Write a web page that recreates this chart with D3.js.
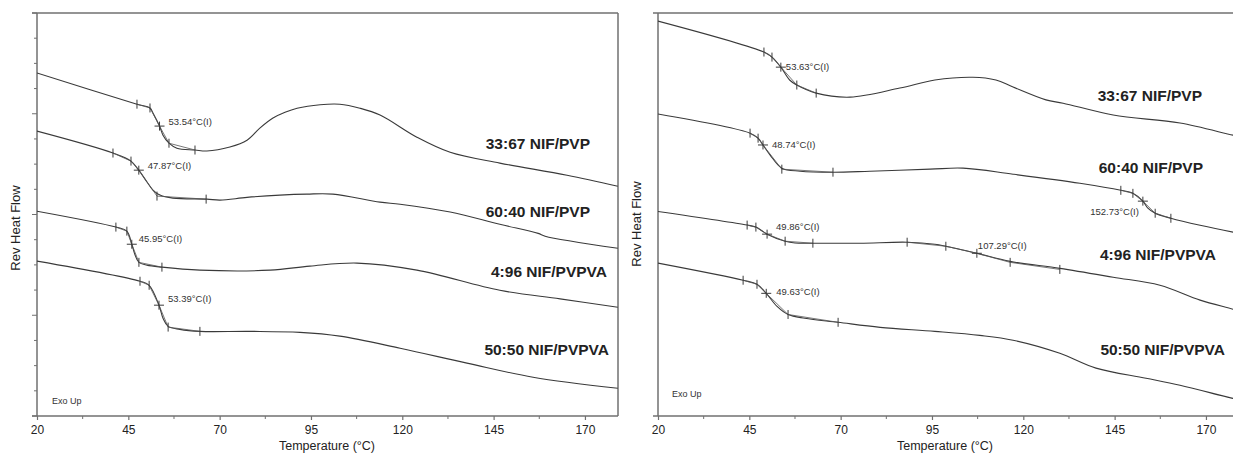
<!DOCTYPE html>
<html>
<head>
<meta charset="utf-8">
<script src="https://cdn.jsdelivr.net/npm/d3@7"></script>
<style>
  body { margin: 0; background: #fff; }
  svg { display: block; }
  text { font-family: "Liberation Sans", Arial, sans-serif; }
</style>
</head>
<body>
<svg id="chart" width="1233" height="454"></svg>
<script>
// ---- axis ticks ----
const xMajorTicks = [20, 45, 70, 95, 120, 145, 170];
const xMinorTicks = [32.5, 57.5, 82.5, 107.5, 132.5, 157.5];
const yTicks = d3.range(0, 17);          // arbitrary heat-flow units
const yMajorTicks = [0, 4, 8, 12, 16];

const seriesNames = ["33:67 NIF/PVP", "60:40 NIF/PVP", "4:96 NIF/PVPVA", "50:50 NIF/PVPVA"];

// ---- reversing heat flow traces, [temperature °C, heat flow] ----
// left panel
const leftPvp3367 = [[20,13.62],[47.37,12.38],[50.93,12.23],[51.75,12.03],[53.54,11.51],[54.49,11.15],[56.13,10.83],[58.3,10.63],[63.25,10.56],[66.5,10.52],[72.8,10.68],[77.5,10.95],[81.0,11.43],[84.6,11.83],[87.9,12.06],[91.2,12.22],[97.5,12.36],[102.9,12.38],[108.4,12.22],[113.9,11.95],[124.0,11.07],[133.1,10.47],[146.7,10.04],[165.1,9.56],[179.0,9.12]];
const leftPvp6040 = [[20,11.31],[40.8,10.44],[45.73,10.12],[47.87,9.76],[50.1,9.29],[51.75,8.97],[53.67,8.77],[57.2,8.65],[66.5,8.61],[70.1,8.57],[77.5,8.68],[86.5,8.77],[93.9,8.81],[101.0,8.81],[113.9,8.49],[119.4,8.41],[133.1,8.10],[146.7,7.61],[157.2,7.25],[159.1,7.14],[179.0,6.66]];
const leftPvpva496 = [[20,8.13],[41.6,7.50],[44.6,7.34],[45.95,6.82],[46.8,6.41],[47.9,6.10],[50.1,5.99],[54.2,5.91],[64.6,5.79],[83.8,5.79],[94.7,5.95],[107.6,6.07],[124.0,5.79],[146.7,4.99],[163.2,4.65],[179.0,4.32]];
const leftPvpva5050 = [[20,6.15],[48.2,5.35],[50.7,5.19],[53.39,4.40],[54.5,3.88],[55.9,3.56],[59.1,3.44],[64.6,3.36],[78.3,3.36],[92.0,3.32],[102.9,3.17],[119.4,2.69],[137.7,2.10],[155.8,1.54],[179.0,1.10]];

// right panel
const rightPvp3367 = [[20,15.68],[49.0,14.45],[51.2,14.25],[53.63,13.85],[56.1,13.33],[58.0,13.14],[63.3,12.82],[72.6,12.66],[86.2,13.02],[95.8,13.34],[106.2,13.45],[112.5,13.34],[117.2,13.06],[126.2,12.55],[130.9,12.42],[144.6,11.95],[162.9,11.63],[177.4,11.15],[179.3,11.10]];
const rightPvp6040 = [[20,11.99],[45.2,11.23],[47.4,11.03],[48.74,10.76],[50.7,10.36],[53.9,9.84],[58.9,9.72],[67.9,9.68],[78.0,9.72],[94.5,9.80],[103.5,9.84],[117.2,9.60],[135.5,9.24],[146.7,8.96],[150.0,8.84],[152.73,8.53],[154.1,8.25],[156.1,8.05],[160.4,7.85],[168.4,7.57],[177.4,7.30],[179.3,7.25]];
const rightPvpva496 = [[20,8.12],[44.4,7.58],[46.8,7.50],[49.86,7.22],[54.8,6.94],[57.5,6.87],[62.4,6.86],[75.3,6.86],[88.2,6.90],[95.8,6.82],[98.8,6.74],[107.29,6.46],[116.4,6.14],[130.0,5.86],[144.6,5.51],[157.4,5.19],[168.4,4.60],[177.4,4.24],[179.3,4.15]];
const rightPvpva5050 = [[20,6.07],[43.3,5.39],[47.1,5.23],[49.63,4.87],[52.6,4.35],[55.6,4.03],[60.2,3.88],[69.3,3.72],[80.8,3.52],[95.8,3.36],[108.1,3.20],[117.2,3.01],[130.0,2.49],[139.9,1.90],[153.6,1.50],[162.9,1.22],[177.4,0.70],[179.3,0.65]];

// ---- glass transition analyses: onset/end tangent points and inflection Tg ----
const leftTransitions = [
  { series: 0, tg: [53.54, 11.51], pts: [[47.37,12.38],[50.93,12.23],[56.13,10.83],[63.25,10.56]] },
  { series: 1, tg: [47.87, 9.76],  pts: [[40.8,10.44],[45.73,10.12],[52.85,8.73],[66.3,8.61]] },
  { series: 2, tg: [45.95, 6.82],  pts: [[41.6,7.50],[44.6,7.34],[47.9,6.10],[54.2,5.91]] },
  { series: 3, tg: [53.39, 4.40],  pts: [[48.2,5.35],[50.7,5.19],[55.9,3.53],[64.6,3.36]] }
];
const rightTransitions = [
  { series: 0, tg: [53.63, 13.85],  pts: [[49.0,14.45],[51.2,14.25],[58.0,13.14],[63.3,12.82]] },
  { series: 1, tg: [48.74, 10.76],  pts: [[45.2,11.23],[47.4,11.03],[53.9,9.80],[67.9,9.68]] },
  { series: 1, tg: [152.73, 8.53],  pts: [[146.7,8.96],[150.0,8.84],[156.1,8.05],[160.4,7.85]] },
  { series: 2, tg: [49.86, 7.22],   pts: [[44.4,7.58],[46.8,7.50],[54.8,6.94],[62.4,6.86]] },
  { series: 2, tg: [107.29, 6.46],  pts: [[88.2,6.90],[98.8,6.74],[116.4,6.10],[130.0,5.82]] },
  { series: 3, tg: [49.63, 4.87],   pts: [[43.3,5.39],[47.1,5.23],[55.6,4.03],[69.3,3.72]] }
];

// ---- layout ----
const plotTop = 13, plotBottom = 416;
const panels = [
  {
    x0: 37, x1: 618, domain: [20, 179.05], rightBorder: true, yTicks: true,
    traces: [leftPvp3367, leftPvp6040, leftPvpva496, leftPvpva5050],
    transitions: leftTransitions,
    tgLabelOffsets: [[9, -1, "start"], [9, -1, "start"], [7, -2, "start"], [9, -3, "start"]],
    nameLabels: [[590, 149], [590, 217], [607, 277], [609, 355]],
    exo: [52, 404], yLabel: [15, 228], xLabelX: 327
  },
  {
    x0: 658, x1: 1240, domain: [20, 179.32], rightBorder: false, yTicks: false,
    traces: [rightPvp3367, rightPvp6040, rightPvpva496, rightPvpva5050],
    transitions: rightTransitions,
    tgLabelOffsets: [[5, 3, "start"], [9, 3, "start"], [-4, 14, "end"], [9, -4, "start"], [1, -4, "start"], [10, 2, "start"]],
    nameLabels: [[1202, 101], [1203, 173], [1216, 260], [1225, 355]],
    exo: [672, 397], yLabel: [636, 224], xLabelX: 945
  }
];

const svg = d3.select("#chart");
const frameColor = "#707070";
const inkColor = "#3a3a3a";

panels.forEach((p, pi) => {
  const x = d3.scaleLinear().domain(p.domain).range([p.x0, p.x1]);
  const y = d3.scaleLinear().domain([0, 16]).range([plotBottom, plotTop]);
  const g = svg.append("g");

  const clipId = "clip" + pi;
  svg.append("defs").append("clipPath").attr("id", clipId)
    .append("rect").attr("x", p.x0).attr("y", plotTop).attr("width", p.x1 - p.x0).attr("height", plotBottom - plotTop);

  // frame
  g.append("line").attr("x1", p.x0 - 5).attr("x2", p.x1).attr("y1", plotTop).attr("y2", plotTop)
    .attr("stroke", frameColor).attr("stroke-width", 1.5);
  if (p.rightBorder) {
    g.append("line").attr("x1", p.x1).attr("x2", p.x1).attr("y1", plotTop).attr("y2", plotBottom)
      .attr("stroke", frameColor).attr("stroke-width", 1.5);
  }

  // x axis
  const xAxis = g.append("g").attr("transform", `translate(0,${plotBottom})`)
    .call(d3.axisBottom(x).tickValues(xMajorTicks).tickSize(4).tickSizeOuter(0).tickPadding(5));
  xAxis.select(".domain").remove();
  xAxis.selectAll(".tick line").attr("stroke", frameColor).attr("stroke-width", 1.2);
  xAxis.selectAll(".tick text").attr("fill", "#222").style("font-size", "12px");
  g.append("g").attr("transform", `translate(0,${plotBottom})`)
    .selectAll("line").data(xMinorTicks).join("line")
    .attr("x1", d => x(d)).attr("x2", d => x(d)).attr("y1", 0).attr("y2", 3)
    .attr("stroke", frameColor).attr("stroke-width", 1);
  g.append("line").attr("x1", p.x0 - 5).attr("x2", p.x1).attr("y1", plotBottom).attr("y2", plotBottom)
    .attr("stroke", frameColor).attr("stroke-width", 1.5);

  // y axis
  g.append("line").attr("x1", p.x0).attr("x2", p.x0).attr("y1", plotTop).attr("y2", plotBottom)
    .attr("stroke", frameColor).attr("stroke-width", 1.5);
  if (p.yTicks) {
    g.append("g").selectAll("line").data(yTicks).join("line")
      .attr("x1", d => p.x0 - (yMajorTicks.includes(d) ? 5 : 3)).attr("x2", p.x0)
      .attr("y1", d => y(d)).attr("y2", d => y(d))
      .attr("stroke", frameColor).attr("stroke-width", 1);
  }

  // axis titles
  g.append("text").attr("x", p.xLabelX).attr("y", 450).attr("text-anchor", "middle")
    .attr("fill", "#222").style("font-size", "12.5px").text("Temperature (°C)");
  g.append("text").attr("transform", `translate(${p.yLabel[0]},${p.yLabel[1]}) rotate(-90)`)
    .attr("text-anchor", "middle").attr("dominant-baseline", "central")
    .attr("fill", "#222").style("font-size", "13px").text("Rev Heat Flow");
  g.append("text").attr("x", p.exo[0]).attr("y", p.exo[1])
    .attr("fill", "#333").style("font-size", "9px").text("Exo Up");

  // traces
  const line = d3.line().x(d => x(d[0])).y(d => y(d[1])).curve(d3.curveCatmullRom.alpha(0.5));
  const plot = g.append("g").attr("clip-path", `url(#${clipId})`);
  plot.selectAll("path.trace").data(p.traces).join("path").attr("class", "trace")
    .attr("d", line).attr("fill", "none").attr("stroke", inkColor).attr("stroke-width", 1.1);

  // tangent constructions and markers
  const straight = d3.line().x(d => x(d[0])).y(d => y(d[1]));
  p.transitions.forEach((t, ti) => {
    const poly = [t.pts[0], t.pts[1], t.tg, t.pts[2], t.pts[3]];
    plot.append("path").attr("d", straight(poly)).attr("fill", "none")
      .attr("stroke", "#555").attr("stroke-width", 0.8);
    t.pts.forEach(pt => {
      plot.append("line").attr("x1", x(pt[0])).attr("x2", x(pt[0]))
        .attr("y1", y(pt[1]) - 4.5).attr("y2", y(pt[1]) + 4.5)
        .attr("stroke", inkColor).attr("stroke-width", 1);
    });
    const tx = x(t.tg[0]), ty = y(t.tg[1]);
    plot.append("line").attr("x1", tx - 5).attr("x2", tx + 5).attr("y1", ty).attr("y2", ty)
      .attr("stroke", inkColor).attr("stroke-width", 1);
    plot.append("line").attr("x1", tx).attr("x2", tx).attr("y1", ty - 4.5).attr("y2", ty + 4.5)
      .attr("stroke", inkColor).attr("stroke-width", 1);
    const off = p.tgLabelOffsets[ti];
    g.append("text").attr("x", tx + off[0]).attr("y", ty + off[1]).attr("text-anchor", off[2])
      .attr("fill", "#333").style("font-size", "9.5px")
      .text(t.tg[0].toFixed(2) + "°C(I)");
  });

  // sample names
  g.selectAll("text.name").data(seriesNames).join("text").attr("class", "name")
    .attr("x", (d, i) => p.nameLabels[i][0]).attr("y", (d, i) => p.nameLabels[i][1])
    .attr("text-anchor", "end").attr("fill", "#222")
    .style("font-size", "15.5px").style("font-weight", "bold").text(d => d);
});
</script>
</body>
</html>
